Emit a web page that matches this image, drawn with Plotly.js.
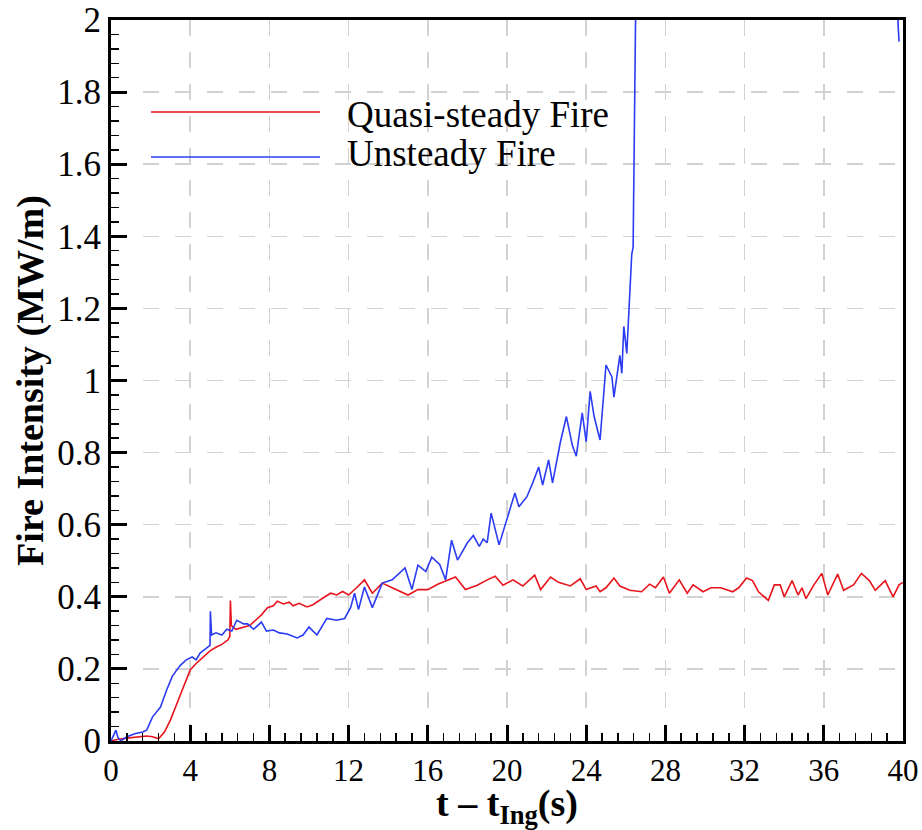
<!DOCTYPE html>
<html>
<head>
<meta charset="utf-8">
<script src="https://cdn.plot.ly/plotly-3.0.1.min.js"></script>
<style>html,body{margin:0;padding:0;background:#fff;}#chart{width:922px;height:830px;}</style>
</head>
<body>
<div id="chart"></div>
<script>
// Quasi-steady fire (red)
const tQuasi = [0,0.3,0.8,1.3,1.8,2.1,2.4,2.7,3.0,3.3,3.6,4.0,4.3,4.7,5.0,5.3,5.6,5.9,6.0,6.03,6.08,6.3,6.6,7.0,7.3,7.6,7.9,8.2,8.4,8.7,9.0,9.2,9.5,9.9,10.2,10.5,10.8,11.1,11.4,11.7,12.0,12.4,12.8,13.2,13.7,14.2,14.6,15.0,15.5,16.0,16.5,17.0,17.4,17.9,18.5,19.0,19.4,19.8,20.3,20.8,21.4,21.7,22.2,22.6,23.2,23.7,24.0,24.5,24.7,25.0,25.4,25.7,26.2,26.8,27.2,27.5,27.9,28.2,28.4,28.7,29.1,29.4,29.9,30.3,30.8,31.4,31.7,32.1,32.4,32.7,33.2,33.5,33.8,34.0,34.4,34.7,34.9,35.1,35.5,35.9,36.2,36.7,37.0,37.5,37.9,38.3,38.6,39.1,39.5,39.8,40.0];
const vQuasi = [0,0.004,0.008,0.012,0.014,0.012,0.006,0.025,0.058,0.1,0.14,0.197,0.215,0.235,0.25,0.26,0.268,0.28,0.29,0.39,0.32,0.31,0.315,0.32,0.335,0.35,0.37,0.375,0.388,0.38,0.385,0.375,0.382,0.372,0.378,0.39,0.40,0.41,0.405,0.415,0.405,0.425,0.447,0.41,0.438,0.425,0.415,0.405,0.42,0.42,0.435,0.447,0.455,0.42,0.432,0.447,0.457,0.432,0.447,0.43,0.46,0.42,0.455,0.44,0.43,0.45,0.42,0.43,0.414,0.425,0.452,0.43,0.418,0.414,0.435,0.425,0.455,0.41,0.425,0.447,0.41,0.433,0.414,0.425,0.425,0.414,0.425,0.452,0.445,0.414,0.39,0.433,0.433,0.40,0.445,0.405,0.425,0.395,0.433,0.465,0.405,0.463,0.418,0.433,0.465,0.445,0.418,0.445,0.40,0.433,0.44];

// Unsteady fire (blue)
const tUnsteady = [0,0.25,0.35,0.5,0.8,1.2,1.6,1.8,2.1,2.5,2.8,3.1,3.5,3.8,4.1,4.3,4.5,4.8,5.0,5.02,5.08,5.3,5.6,5.85,6.1,6.35,6.7,6.9,7.2,7.6,7.85,8.2,8.5,8.9,9.4,9.7,10.0,10.4,10.9,11.4,11.8,12.1,12.3,12.5,12.8,13.2,13.7,14.2,14.85,15.2,15.5,15.9,16.2,16.6,16.9,17.2,17.5,18.0,18.3,18.6,18.8,19.0,19.2,19.6,20.0,20.4,20.6,21.0,21.3,21.6,21.8,22.1,22.3,22.7,23.0,23.3,23.5,23.8,24.0,24.2,24.4,24.7,25.0,25.3,25.4,25.7,25.8,25.9,26.05,26.17,26.3,26.37,26.42,26.47,26.5,26.55,27.0,39.7,39.75,39.8];
const vUnsteady = [0,0.03,0.01,0,0.012,0.02,0.025,0.03,0.067,0.094,0.14,0.18,0.21,0.225,0.233,0.225,0.244,0.258,0.265,0.36,0.294,0.30,0.294,0.31,0.305,0.335,0.325,0.325,0.31,0.33,0.305,0.308,0.30,0.297,0.286,0.294,0.316,0.294,0.34,0.335,0.34,0.37,0.41,0.365,0.427,0.37,0.438,0.447,0.48,0.42,0.488,0.47,0.51,0.49,0.447,0.557,0.502,0.55,0.57,0.54,0.56,0.55,0.632,0.544,0.613,0.688,0.65,0.677,0.716,0.76,0.71,0.78,0.716,0.83,0.90,0.82,0.79,0.91,0.83,0.97,0.90,0.835,1.043,1.01,0.954,1.07,1.02,1.15,1.075,1.22,1.35,1.37,1.59,1.81,2.0,2.3,3.0,2.6,1.99,1.94];

const seriesNames = ['Quasi-steady Fire', 'Unsteady Fire'];
const seriesColors = ['#e8141c', '#2b3cf2'];

const FONT = 'Liberation Serif';

const traces = [
  {x: tQuasi, y: vQuasi, name: seriesNames[0], type: 'scatter', mode: 'lines',
   line: {color: seriesColors[0], width: 1.6}, showlegend: false},
  {x: tUnsteady, y: vUnsteady, name: seriesNames[1], type: 'scatter', mode: 'lines',
   line: {color: seriesColors[1], width: 1.6}, showlegend: false}
];

const gridStyle = {showgrid: true, gridcolor: '#d2d2d2', gridwidth: 1.5, griddash: '16px,16px'};

const layout = {
  width: 922, height: 830,
  margin: {l: 111, r: 19, t: 20, b: 89},
  paper_bgcolor: '#ffffff', plot_bgcolor: '#ffffff',
  showlegend: false,
  font: {family: FONT, color: '#000'},
  xaxis: Object.assign({
    range: [0, 40], tick0: 0, dtick: 4,
    ticks: 'inside', ticklen: 16, tickwidth: 3, tickcolor: '#000',
    showline: true, linewidth: 3, linecolor: '#000', mirror: true,
    zeroline: false,
    tickfont: {family: FONT, size: 31, color: '#000'},
    minor: {ticks: 'inside', ticklen: 8, tickwidth: 1.5, tickcolor: '#000', dtick: 0.8, showgrid: false},
    title: {text: '<b>t – t<sub>Ing</sub>(s)</b>', font: {family: FONT, size: 38, color: '#000'}, standoff: 4}
  }, gridStyle),
  yaxis: Object.assign({
    range: [0, 2], tick0: 0, dtick: 0.2,
    ticks: 'inside', ticklen: 16, tickwidth: 3, tickcolor: '#000',
    showline: true, linewidth: 3, linecolor: '#000', mirror: true,
    zeroline: false,
    tickfont: {family: FONT, size: 35, color: '#000'},
    minor: {ticks: 'inside', ticklen: 8, tickwidth: 1.5, tickcolor: '#000', dtick: 0.04, showgrid: false},
    title: {text: '<b>Fire Intensity (MW/m)</b>', font: {family: FONT, size: 38, color: '#000'}, standoff: 2}
  }, gridStyle),
  shapes: [
    {type: 'line', xref: 'paper', yref: 'paper', x0: 0.0505, x1: 0.264, y0: 0.8724, y1: 0.8724,
     line: {color: seriesColors[0], width: 1.6}},
    {type: 'line', xref: 'paper', yref: 'paper', x0: 0.0505, x1: 0.264, y0: 0.810, y1: 0.810,
     line: {color: seriesColors[1], width: 1.6}}
  ],
  annotations: [
    {text: seriesNames[0], xref: 'paper', yref: 'paper', x: 0.296, y: 0.8696, xanchor: 'left', yanchor: 'middle',
     showarrow: false, font: {family: FONT, size: 37, color: '#000'}},
    {text: seriesNames[1], xref: 'paper', yref: 'paper', x: 0.296, y: 0.8155, xanchor: 'left', yanchor: 'middle',
     showarrow: false, font: {family: FONT, size: 37, color: '#000'}}
  ]
};

Plotly.newPlot('chart', traces, layout, {displayModeBar: false, staticPlot: true});
</script>
</body>
</html>
